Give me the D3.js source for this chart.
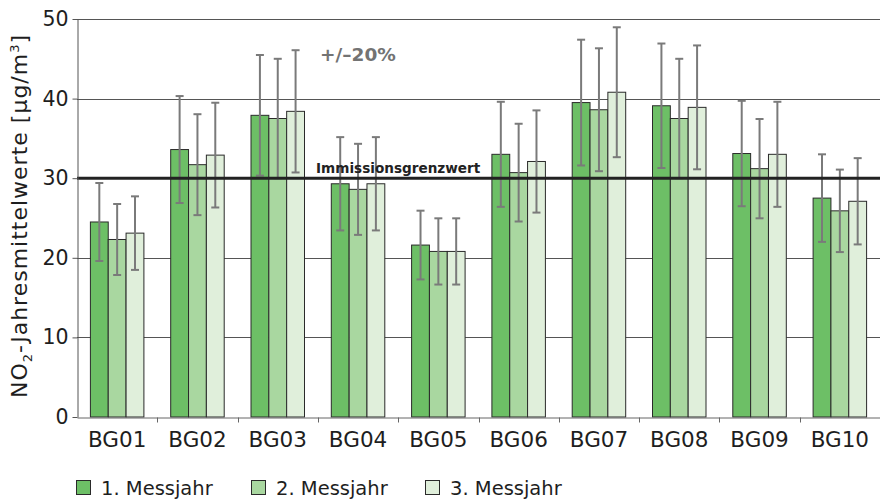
<!DOCTYPE html>
<html>
<head>
<meta charset="utf-8">
<script src="https://cdn.jsdelivr.net/npm/d3@7"></script>
<style>
  body { margin: 0; background: #fff; }
  svg { display: block; font-family: 'DejaVu Sans', sans-serif; }
</style>
</head>
<body>
<svg id="chart" width="880" height="501"></svg>
<script>
const stations = ['BG01', 'BG02', 'BG03', 'BG04', 'BG05', 'BG06', 'BG07', 'BG08', 'BG09', 'BG10'];
const years = ['1. Messjahr', '2. Messjahr', '3. Messjahr'];
const year1 = [24.5, 33.6, 37.9, 29.3, 21.6, 33.0, 39.5, 39.1, 33.1, 27.5];
const year2 = [22.3, 31.7, 37.5, 28.6, 20.8, 30.7, 38.6, 37.5, 31.2, 25.9];
const year3 = [23.1, 32.9, 38.4, 29.3, 20.8, 32.1, 40.8, 38.9, 33.0, 27.1];
const yTicks = [0, 10, 20, 30, 40, 50];
const limitValue = 30;
const uncertainty = 0.2; // +/-20%

const colors = ['#6dbf66', '#a9d7a0', '#e0efdb'];
const series = [year1, year2, year3];

const svg = d3.select('#chart');

const x = d3.scaleBand().domain(stations).range([77, 880]);
const x1 = d3.scaleBand().domain(years).range([13.4, x.bandwidth() - 13.4]);
const y = d3.scaleLinear().domain([0, 50]).range([417, 19]);

// gridlines
svg.append('g')
  .selectAll('line')
  .data(yTicks.filter(d => d !== 0 && d !== limitValue))
  .join('line')
  .attr('x1', 77).attr('x2', 880)
  .attr('y1', d => Math.round(y(d)) + 0.5).attr('y2', d => Math.round(y(d)) + 0.5)
  .attr('stroke', '#555').attr('stroke-width', 1);

// bars
const rows = stations.flatMap((s, i) => series.map((vals, j) => ({ station: s, year: years[j], idx: j, value: vals[i] })));

svg.append('g')
  .selectAll('rect')
  .data(rows)
  .join('rect')
  .attr('x', d => x(d.station) + x1(d.year))
  .attr('y', d => y(d.value))
  .attr('width', x1.bandwidth())
  .attr('height', d => y(0) - y(d.value))
  .attr('fill', d => colors[d.idx])
  .attr('stroke', '#2a2a2a').attr('stroke-width', 1);

// error bars
const err = svg.append('g').attr('stroke', '#7a7a7a').attr('stroke-width', 2).attr('fill', 'none');
rows.forEach(d => {
  const cx = x(d.station) + x1(d.year) + x1.bandwidth() / 2;
  const hi = y(d.value * (1 + uncertainty));
  const lo = y(d.value * (1 - uncertainty));
  err.append('line').attr('x1', cx).attr('x2', cx).attr('y1', hi).attr('y2', lo);
  err.append('line').attr('x1', cx - 4).attr('x2', cx + 4).attr('y1', hi).attr('y2', hi);
  err.append('line').attr('x1', cx - 4).attr('x2', cx + 4).attr('y1', lo).attr('y2', lo);
});

// limit line
svg.append('line')
  .attr('x1', 77).attr('x2', 880)
  .attr('y1', y(limitValue)).attr('y2', y(limitValue))
  .attr('stroke', '#222').attr('stroke-width', 3);

svg.append('text')
  .attr('x', 316).attr('y', 172.5)
  .attr('font-size', 13.6).attr('font-weight', 'bold').attr('fill', '#222')
  .text('Immissionsgrenzwert');

svg.append('text')
  .attr('x', 320).attr('y', 60.5)
  .attr('font-size', 18.5).attr('font-weight', 'bold').attr('fill', '#737373')
  .text('+/–20%');

// y axis
const yAxis = svg.append('g').attr('transform', 'translate(77.5,0)')
  .call(d3.axisLeft(y).tickValues(yTicks).tickSize(5).tickPadding(4).tickSizeOuter(0));
yAxis.select('.domain').attr('stroke', '#555');
yAxis.selectAll('.tick line').attr('stroke', '#555');
yAxis.selectAll('.tick text')
  .attr('font-family', 'DejaVu Sans').attr('font-size', 20.5).attr('fill', '#1e1e1e');

// x axis
const xAxis = svg.append('g').attr('transform', 'translate(0,417.5)')
  .call(d3.axisBottom(x).tickSize(0).tickPadding(14).tickSizeOuter(0));
xAxis.select('.domain').attr('stroke', '#666');
xAxis.selectAll('.tick text')
  .attr('font-family', 'DejaVu Sans').attr('font-size', 21.5).attr('fill', '#1e1e1e');
xAxis.selectAll('.sep')
  .data(stations.slice(1))
  .join('line')
  .attr('class', 'sep')
  .attr('x1', d => Math.round(x(d)) + 0.5).attr('x2', d => Math.round(x(d)) + 0.5)
  .attr('y1', 0).attr('y2', 5)
  .attr('stroke', '#666');

// y axis title
const yTitle = svg.append('text')
  .attr('transform', 'translate(27,216) rotate(-90)')
  .attr('text-anchor', 'middle')
  .attr('font-size', 22).attr('letter-spacing', 1).attr('fill', '#1e1e1e');
yTitle.append('tspan').text('NO');
yTitle.append('tspan').attr('font-size', 13).attr('dy', 5).text('2');
yTitle.append('tspan').attr('dy', -5).text('-Jahresmittelwerte [µg/m');
yTitle.append('tspan').attr('font-size', 13).attr('dy', -8).text('3');
yTitle.append('tspan').attr('dy', 8).text(']');

// legend
const legendX = [76, 251, 425];
const legend = svg.append('g');
years.forEach((name, i) => {
  legend.append('rect')
    .attr('x', legendX[i] + 0.5).attr('y', 480.5).attr('width', 14).attr('height', 14)
    .attr('fill', colors[i]).attr('stroke', '#2a2a2a');
  legend.append('text')
    .attr('x', legendX[i] + 25).attr('y', 494.5)
    .attr('font-size', 19.5).attr('fill', '#1e1e1e')
    .text(name);
});
</script>
</body>
</html>
